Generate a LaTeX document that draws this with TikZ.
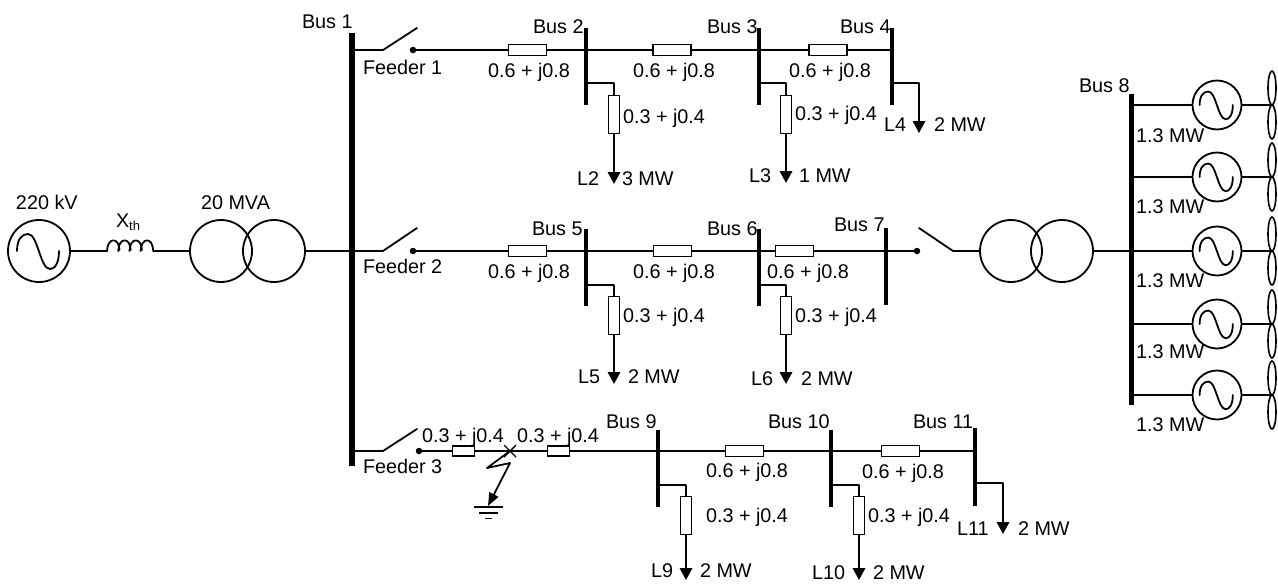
\documentclass[tikz,border=0pt]{standalone}
\usepackage{fontspec}
\setmainfont{Liberation Sans}
\usetikzlibrary{arrows.meta,shapes.geometric,calc}
\newcount\labno
\newcommand{\lab}[3]{\global\advance\labno by 1 \node[lbl] (t\the\labno) at (#1,#2) {#3};}
\newcommand{\sinewave}[2]{\draw[wire,shift={(#1)},scale=#2] (-22,0) .. controls (-22,-12) and (-17,-17) .. (-11,-17) .. controls (-1,-17) and (1,18) .. (11,18) .. controls (16,18) and (20,12) .. (20,0);}
\newcommand{\fan}[2]{\draw[wire] (#1.east) -- (#2);
  \node[blade,anchor=south] (#2u) at (#2) {};
  \node[blade,anchor=north] (#2d) at (#2) {};}
\tikzset{
  wire/.style={line width=1.8pt,line cap=round,line join=round},
  lbl/.style={anchor=base west,inner sep=0pt,outer sep=0pt,font=\fontsize{19.8}{22}\selectfont},
  hres/.style={draw,line width=1.8pt,minimum width=38pt,minimum height=11pt,inner sep=0pt},
  sres/.style={draw,line width=1.8pt,minimum width=22pt,minimum height=10.5pt,inner sep=0pt},
  vres/.style={draw,line width=1.8pt,minimum width=11pt,minimum height=38pt,inner sep=0pt},
  bus/.style={fill=black,inner sep=0pt,minimum width=#1},
  bus/.default=4pt,
  ring/.style={draw,circle,line width=1.8pt,minimum size=#1,inner sep=0pt},
  blade/.style={draw,ellipse,line width=1.6pt,minimum width=8pt,minimum height=34pt,inner sep=0pt,outer sep=0pt},
  dotn/.style={fill=black,circle,minimum size=6.5pt,inner sep=0pt},
  load/.style={wire,-{Triangle[width=12.5pt,length=12pt]}},
}
\begin{document}
\begin{tikzpicture}[x=1pt,y=-1pt]
\useasboundingbox (0,0) rectangle (1278,584);

% buses
\node[bus=6pt,minimum height=433pt] (b1) at (352,249.5) {};
\node[bus,minimum height=77pt] (b2) at (586,66.5) {};
\node[bus,minimum height=77pt] (b3) at (759,66.5) {};
\node[bus,minimum height=77pt] (b4) at (892,66.5) {};
\node[bus,minimum height=77pt] (b5) at (586,267.5) {};
\node[bus,minimum height=77pt] (b6) at (759,267.5) {};
\node[bus,minimum height=77pt] (b7) at (886,266.5) {};
\node[bus=5pt,minimum height=311pt] (b8) at (1131,249.5) {};
\node[bus,minimum height=77pt] (b9) at (658,468.5) {};
\node[bus,minimum height=77pt] (b10) at (831,468.5) {};
\node[bus,minimum height=78pt] (b11) at (975,467) {};

% source side
\node[ring=62pt] (src) at (39,251) {};
\sinewave{src.center}{1}
\node[ring=62pt] (t1a) at (221,251) {};
\node[ring=62pt] (t1b) at (274,251) {};
\coordinate (lx1) at (107,251);
\coordinate (lx2) at (153,251);
\draw[wire] (src.east) -- (lx1);
\foreach \i in {0,1,2,3}
  \draw[wire] ($(lx1)+(\i*11.2,0)$) .. controls +(0.5,-14) and +(-0.5,-13) .. +(12.5,-1);
\draw[wire] (lx2) -- (t1a.west);
\draw[wire] (t1b.east) -- (b1.center |- t1b.east);

% feeder 1
\coordinate (s1a) at (383,50);
\coordinate (s1b) at (417,28);
\node[dotn] (d1) at (413,50) {};
\draw[wire] (b1.center |- s1a) -- (s1a) -- (s1b);
\node[hres] (r12) at (527.5,50) {};
\node[hres] (r23) at (672,50) {};
\node[hres] (r34) at (828,50) {};
\draw[wire] (d1) -- (r12.west);
\draw[wire] (r12.east) -- (r23.west);
\draw[wire] (r23.east) -- (r34.west);
\draw[wire] (r34.east) -- (b4.center |- r34.east);

\node[vres] (r2) at (614,114.5) {};
\coordinate (k2) at (614,83);
\coordinate (l2) at (614,184);
\draw[wire] (b2.center |- k2) -- (k2) -- (r2.north);
\draw[load] (r2.south) -- (l2);
\node[vres] (r3) at (786,114.5) {};
\coordinate (k3) at (786,83);
\coordinate (l3) at (786,183);
\draw[wire] (b3.center |- k3) -- (k3) -- (r3.north);
\draw[load] (r3.south) -- (l3);
\coordinate (k4) at (919,83);
\coordinate (l4) at (919,133);
\draw[load] (b4.center |- k4) -- (k4) -- (l4);

% feeder 2
\coordinate (s2a) at (383,251);
\coordinate (s2b) at (417,228);
\node[dotn] (d2) at (413,251) {};
\draw[wire] (b1.center |- s2a) -- (s2a) -- (s2b);
\node[hres] (r45) at (527.5,251) {};
\node[hres] (r56) at (672.5,251) {};
\node[hres] (r67) at (794.5,251) {};
\node[dotn] (d7) at (917,251) {};
\draw[wire] (d2) -- (r45.west);
\draw[wire] (r45.east) -- (r56.west);
\draw[wire] (r56.east) -- (r67.west);
\draw[wire] (r67.east) -- (d7);
\node[vres] (r5) at (614,315.5) {};
\coordinate (k5) at (614,285);
\coordinate (l5) at (614,384);
\draw[wire] (b5.center |- k5) -- (k5) -- (r5.north);
\draw[load] (r5.south) -- (l5);
\node[vres] (r6) at (786,315.5) {};
\coordinate (k6) at (786,285);
\coordinate (l6) at (786,384);
\draw[wire] (b6.center |- k6) -- (k6) -- (r6.north);
\draw[load] (r6.south) -- (l6);
\coordinate (s7a) at (953,251);
\coordinate (s7b) at (919,228);
\node[ring=62pt] (t2a) at (1011,251) {};
\node[ring=62pt] (t2b) at (1062,251) {};
\draw[wire] (s7b) -- (s7a) -- (t2a.west);
\draw[wire] (t2b.east) -- (b8.center |- t2b.east);

% generators
\foreach \n/\y in {1/105,2/177,3/251,4/324,5/395}{
  \node[ring=49pt] (g\n) at (1217,\y) {};
  \sinewave{g\n.center}{0.79}
  \coordinate (h\n) at (1272,\y);
  \draw[wire] (b8.center |- g\n.west) -- (g\n.west);
  \fan{g\n}{h\n}
}

% feeder 3
\coordinate (s3a) at (383,451);
\coordinate (s3b) at (417,429);
\node[dotn] (d3) at (419,451) {};
\draw[wire] (b1.center |- s3a) -- (s3a) -- (s3b);
\node[sres] (r3a) at (463.5,451) {};
\node[sres] (r3b) at (558.5,451) {};
\node[hres] (r910) at (744.5,451) {};
\node[hres] (r1011) at (900.5,451) {};
\draw[wire] (d3) -- (r3a.west);
\draw[wire] (r3a.east) -- (r3b.west);
\draw[wire] (r3b.east) -- (r910.west);
\draw[wire] (r910.east) -- (r1011.west);
\draw[wire] (r1011.east) -- (b11.center |- r1011.east);
% fault
\coordinate (fx) at (510,451);
\draw[line width=1.4pt] ($(fx)+(-6,-6)$) -- ($(fx)+(6,6)$);
\draw[line width=1.4pt] ($(fx)+(6,-6)$) -- ($(fx)+(-6,6)$);
\coordinate (f1) at (487,468);
\coordinate (f2) at (510,463);
\coordinate (fg) at (488,506);
\draw[wire,-{Triangle[width=10pt,length=13pt]}] (fx) -- (f1) -- (f2) -- (fg);
\draw[line width=1.6pt] (474,507) -- (503,507) (479,513) -- (498,513) (485,518.5) -- (492,518.5);

\node[vres] (r9) at (686,515.5) {};
\coordinate (k9) at (686,485);
\coordinate (l9) at (686,580);
\draw[wire] (b9.center |- k9) -- (k9) -- (r9.north);
\draw[load] (r9.south) -- (l9);
\node[vres] (r10) at (859,515.5) {};
\coordinate (k10) at (859,485);
\coordinate (l10) at (859,580);
\draw[wire] (b10.center |- k10) -- (k10) -- (r10.north);
\draw[load] (r10.south) -- (l10);
\coordinate (k11) at (1003,483);
\coordinate (l11) at (1003,534);
\draw[load] (b11.center |- k11) -- (k11) -- (l11);

% labels
\lab{16}{209}{220 kV}
\lab{116}{227}{X\raisebox{-3pt}{\fontsize{13}{14}\selectfont th}}
\lab{201}{209}{20 MVA}
\lab{302}{28}{Bus 1}
\lab{533}{33}{Bus 2}
\lab{707}{33}{Bus 3}
\lab{840}{33}{Bus 4}
\lab{532}{235}{Bus 5}
\lab{707}{235}{Bus 6}
\lab{834}{231}{Bus 7}
\lab{1079}{92}{Bus 8}
\lab{606}{428}{Bus 9}
\lab{768}{428}{Bus 10}
\lab{913}{428}{Bus 11}
\lab{363}{74}{Feeder 1}
\lab{363}{273}{Feeder 2}
\lab{363}{473}{Feeder 3}
\lab{488}{77}{0.6 + j0.8}
\lab{633}{77}{0.6 + j0.8}
\lab{789}{77}{0.6 + j0.8}
\lab{488}{278}{0.6 + j0.8}
\lab{633}{278}{0.6 + j0.8}
\lab{767}{278}{0.6 + j0.8}
\lab{706}{477}{0.6 + j0.8}
\lab{862}{478}{0.6 + j0.8}
\lab{623}{123}{0.3 + j0.4}
\lab{795}{120}{0.3 + j0.4}
\lab{623}{322}{0.3 + j0.4}
\lab{795}{322}{0.3 + j0.4}
\lab{706}{522}{0.3 + j0.4}
\lab{868}{522}{0.3 + j0.4}
\lab{422}{442}{0.3 + j0.4}
\lab{517}{442}{0.3 + j0.4}
\lab{577}{185}{L2}
\lab{622}{185}{3 MW}
\lab{749}{182}{L3}
\lab{799}{182}{1 MW}
\lab{884}{131}{L4}
\lab{934}{131}{2 MW}
\lab{578}{383}{L5}
\lab{628}{383}{2 MW}
\lab{751}{385}{L6}
\lab{801}{385}{2 MW}
\lab{651}{577}{L9}
\lab{700}{577}{2 MW}
\lab{812}{579}{L10}
\lab{873}{579}{2 MW}
\lab{957}{535}{L11}
\lab{1018}{535}{2 MW}
\lab{1136}{142}{1.3 MW}
\lab{1136}{213}{1.3 MW}
\lab{1136}{287}{1.3 MW}
\lab{1136}{358}{1.3 MW}
\lab{1136}{431}{1.3 MW}
\end{tikzpicture}
\end{document}
